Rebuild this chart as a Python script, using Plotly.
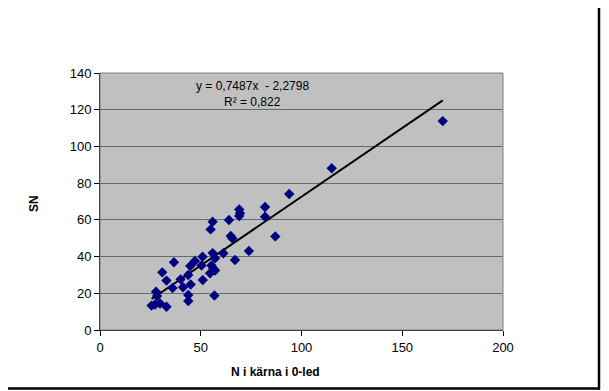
import plotly.graph_objects as go

# ---- data ----
n_karna = [25.6, 27.3, 27.8, 28.3, 29.8, 33.0, 30.9, 33.0, 36.7, 36.0,
           40.0, 41.2, 43.8, 45.0, 43.8, 43.8, 44.8, 47.1, 50.9, 50.4,
           51.0, 54.6, 55.3, 56.3, 57.1, 56.8, 55.9, 57.1, 61.2, 67.0,
           73.9, 64.9, 65.7, 64.0, 55.9, 54.9, 69.1, 69.5, 69.1, 81.9,
           81.9, 87.0, 93.9, 115.0, 170.1]
sn = [13.3, 13.9, 20.9, 18.5, 14.4, 12.7, 31.4, 26.9, 36.9, 22.9,
      27.6, 23.3, 30.0, 24.8, 19.1, 15.8, 34.9, 37.6, 39.9, 35.1,
      27.2, 30.9, 35.1, 33.5, 32.4, 18.8, 41.9, 39.1, 41.8, 38.1,
      43.1, 51.2, 49.9, 59.9, 59.0, 54.8, 65.7, 63.6, 62.1, 67.0,
      61.7, 51.0, 74.1, 88.1, 113.8]
slope = 0.7487
intercept = -2.2798
r2_text = "0,822"
eq_text = "y = 0,7487x  - 2,2798"
x_title = "N i kärna i 0-led"
y_title = "SN"
x_ticks = [0, 50, 100, 150, 200]
y_ticks = [0, 20, 40, 60, 80, 100, 120, 140]

# ---- layout geometry (page has an 8px body margin) ----
OFF = 8
W, H = 609 - OFF, 391 - OFF
L, T = 100 - OFF, 73 - OFF
R = W - (503 - OFF)
B = H - (330 - OFF)
PW, PH = W - L - R, H - T - B

def px(x):
    return (x - OFF - L) / PW

def py(y):
    return (H - B - (y - OFF)) / PH

trend_x = [min(n_karna), max(n_karna)]
trend_y = [slope * v + intercept for v in trend_x]

fig = go.Figure()
fig.add_trace(go.Scatter(x=trend_x, y=trend_y, mode="lines",
                         line=dict(color="black", width=2), hoverinfo="skip"))
fig.add_trace(go.Scatter(x=n_karna, y=sn, mode="markers",
                         marker=dict(symbol="diamond", size=8, color="#000080",
                                     line=dict(width=0))))

font_main = "Liberation Sans, Arial, sans-serif"
tickfont = dict(family=font_main, size=13, color="black")

fig.update_layout(
    width=W, height=H,
    margin=dict(l=L, r=R, t=T, b=B, autoexpand=False),
    paper_bgcolor="white",
    plot_bgcolor="#C0C0C0",
    showlegend=False,
    font=dict(family=font_main, color="black"),
    xaxis=dict(range=[0, 200], tickvals=x_ticks, ticks="outside", ticklen=5,
               tickcolor="black", showline=True, linecolor="black", linewidth=1,
               showgrid=False, zeroline=False, tickfont=tickfont, fixedrange=True),
    yaxis=dict(range=[0, 140], tickvals=y_ticks, ticks="outside", ticklen=5,
               tickcolor="black", showline=True, linecolor="black", linewidth=1,
               showgrid=True, gridcolor="#6a6a6a", gridwidth=1,
               zeroline=False, tickfont=tickfont, fixedrange=True),
    shapes=[
        # plot area border (top/right gray)
        dict(type="rect", xref="paper", yref="paper", x0=0, x1=1, y0=0, y1=1,
             line=dict(color="#808080", width=1), layer="above"),
        # outer chart border (right/bottom, thick)
        dict(type="line", xref="paper", yref="paper", x0=px(599), x1=px(599),
             y0=py(0), y1=py(389.5), line=dict(color="black", width=2.5)),
        dict(type="line", xref="paper", yref="paper", x0=px(0), x1=px(600),
             y0=py(388.5), y1=py(388.5), line=dict(color="black", width=2.5)),
    ],
    annotations=[
        dict(text=eq_text, xref="paper", yref="paper", x=px(252), y=py(86),
             showarrow=False, xanchor="center", yanchor="middle",
             font=dict(family=font_main, size=12, color="black")),
        dict(text="R² = " + r2_text, xref="paper", yref="paper", x=px(252), y=py(102),
             showarrow=False, xanchor="center", yanchor="middle",
             font=dict(family=font_main, size=12, color="black")),
        dict(text="<b>" + x_title + "</b>", xref="paper", yref="paper", x=px(275), y=py(372),
             showarrow=False, xanchor="center", yanchor="middle",
             font=dict(family=font_main, size=12, color="black")),
        dict(text="<b>" + y_title + "</b>", xref="paper", yref="paper", x=px(34), y=py(204),
             showarrow=False, xanchor="center", yanchor="middle", textangle=-90,
             font=dict(family=font_main, size=12, color="black")),
    ],
)

fig.write_html("out.html")
